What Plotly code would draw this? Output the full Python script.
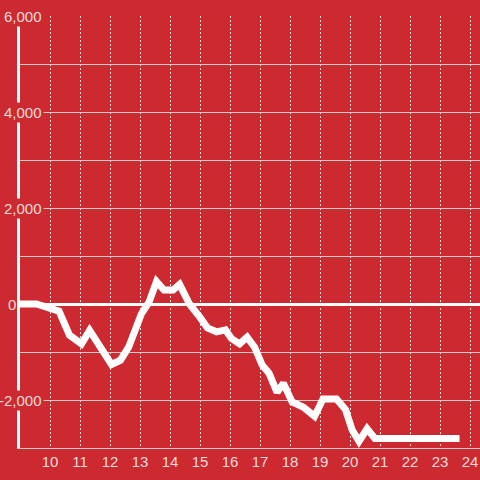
import plotly.graph_objects as go

# Data
hours = [9.0, 9.55, 10.3, 10.65, 11.05, 11.32, 12.05, 12.35, 12.62, 13.05, 13.3, 13.55,
         13.8, 14.1, 14.32, 14.65, 15.0, 15.25, 15.55, 15.85, 16.05, 16.32, 16.57,
         16.82, 17.07, 17.3, 17.57, 17.78, 18.07, 18.45, 18.82, 19.1, 19.55, 19.85,
         20.07, 20.3, 20.57, 20.83, 23.65]
values = [0, 0, -150, -650, -830, -550, -1260, -1170, -900, -200, 40, 470,
          290, 290, 410, 0, -280, -500, -580, -540, -720, -830, -690,
          -900, -1270, -1440, -1840, -1650, -2040, -2150, -2340, -1980, -1980, -2200,
          -2620, -2860, -2600, -2800, -2800]

x_ticks = list(range(10, 25))
y_label_vals = [6000, 4000, 2000, 0, -2000]

BG = "#cc2a30"
TXT = "#f3dcdc"
FONT = "Liberation Sans, Arial, sans-serif"

fig = go.Figure()
fig.add_trace(go.Scatter(x=hours, y=values, mode="lines",
                         line=dict(color="white", width=7),
                         hoverinfo="skip", showlegend=False))

annotations = []
for v in y_label_vals:
    txt = f"{v:,}"
    if v == 0:
        annotations.append(dict(x=(7 - 20) / 460, y=v, xref="paper", yref="y",
                                text=txt, showarrow=False, xanchor="left",
                                font=dict(size=15, color=TXT, family=FONT),
                                bgcolor=BG, borderpad=0))
    else:
        annotations.append(dict(x=(44 - 20) / 460, y=v, xref="paper", yref="y",
                                text=txt, showarrow=False, xanchor="right",
                                font=dict(size=15, color=TXT, family=FONT),
                                bgcolor=BG, borderpad=1))

fig.update_layout(
    width=480, height=480,
    paper_bgcolor=BG, plot_bgcolor=BG,
    margin=dict(l=20, r=0, t=16, b=32),
    showlegend=False,
    annotations=annotations,
    xaxis=dict(range=[9, 9 + 460 / 30], tickvals=x_ticks,
               ticktext=[str(t) for t in x_ticks],
               showgrid=True, gridcolor="rgba(255,255,255,0.85)", gridwidth=1,
               griddash="2px,2px", zeroline=False,
               showline=True, linecolor="#cccccc", linewidth=1,
               ticks="", tickfont=dict(size=15, color=TXT, family=FONT),
               fixedrange=True),
    yaxis=dict(range=[-3000, 6000], dtick=1000, showticklabels=False,
               showgrid=True, gridcolor="#cccccc", gridwidth=1,
               zeroline=True, zerolinecolor="white", zerolinewidth=3,
               showline=True, linecolor="white", linewidth=3,
               ticks="", fixedrange=True),
)

fig.write_html("out.html", config={"displayModeBar": False},
               post_script="document.body.style.margin='0';document.body.style.overflow='hidden';")
